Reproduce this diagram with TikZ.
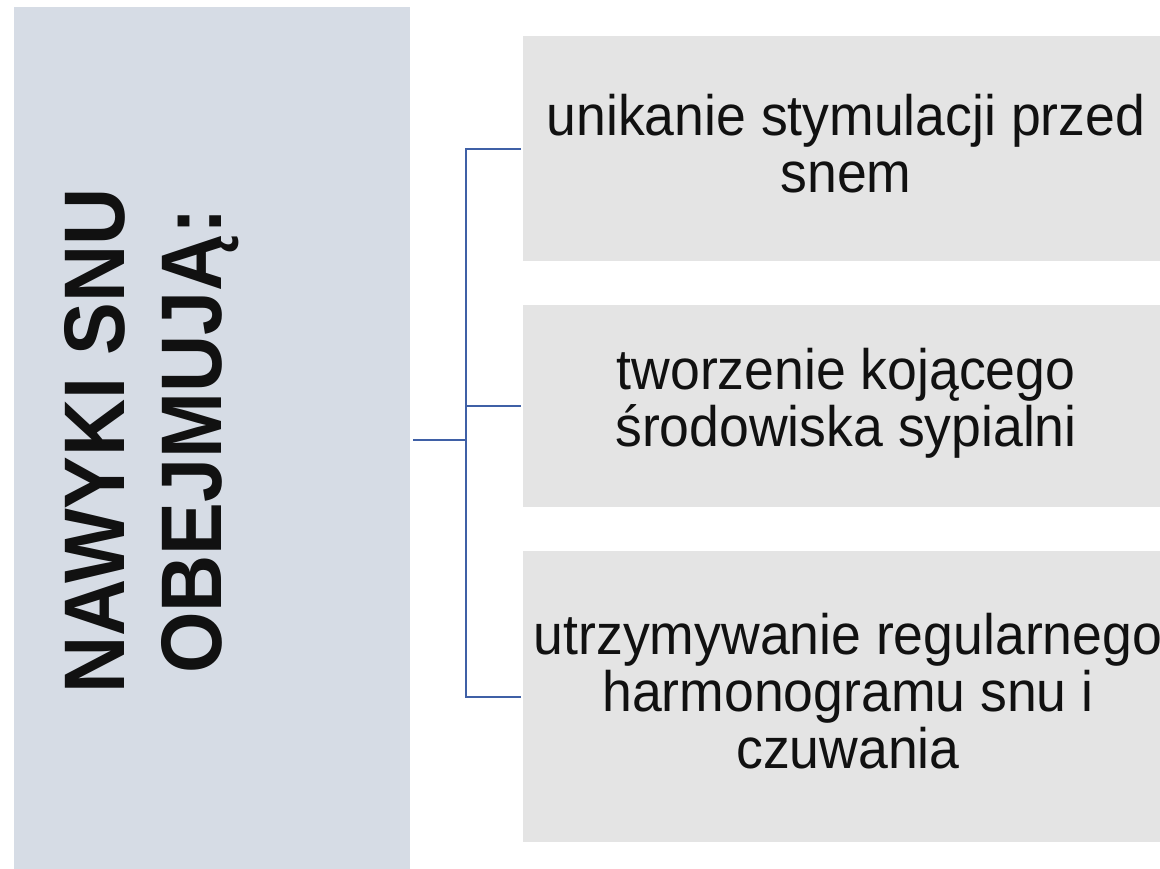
\documentclass[tikz,border=0pt]{standalone}
\usepackage{fontspec}
\setmainfont{Liberation Sans}
\newfontfamily\bodyfont[FakeStretch=0.94]{Liberation Sans}
\newfontfamily\titlefont[FakeStretch=0.92]{Liberation Sans Bold}
\definecolor{leftfill}{HTML}{D6DCE5}
\definecolor{rightfill}{HTML}{E4E4E4}
\definecolor{linkcol}{HTML}{3F60A6}
\definecolor{txt}{HTML}{111111}
\begin{document}
\begin{tikzpicture}[x=1pt,y=-1pt,
  itembox/.style={fill=rightfill,draw=none},
  itemtext/.style={align=center,text=txt,font=\bodyfont\fontsize{57}{57}\selectfont,inner sep=0pt},
  link/.style={draw=linkcol,line width=2.5pt}]
\useasboundingbox (0,0) rectangle (1160,869);
\clip (0,0) rectangle (1160,869);
% left box
\fill[leftfill] (14,7) rectangle (410,869);
\node[rotate=90,align=center,text=txt,font=\titlefont\fontsize{86}{97}\selectfont,inner sep=0pt] (title) at (152,441) {NAWYKI SNU\\OBEJMUJĄ:};
\coordinate (lout) at (413,440);
% right boxes
\fill[itembox] (523,36) rectangle (1160,261);
\fill[itembox] (523,305) rectangle (1160,507);
\fill[itembox] (523,551) rectangle (1160,842);
\node[itemtext] (t1) at (846,144) {unikanie stymulacji przed\\snem};
\node[itemtext] (t2) at (846,403) {tworzenie kojącego\\środowiska sypialni};
\node[itemtext] (t3) at (848,691) {utrzymywanie regularnego\\harmonogramu snu i\\czuwania};
\coordinate (j) at (466,440);
\coordinate (b1) at (521,149);
\coordinate (b2) at (521,406);
\coordinate (b3) at (521,697);
\draw[link] (lout) -- (j);
\draw[link] (b1) -- (b1 -| j) -- (b3 -| j) -- (b3);
\draw[link] (b2 -| j) -- (b2);
\end{tikzpicture}
\end{document}
